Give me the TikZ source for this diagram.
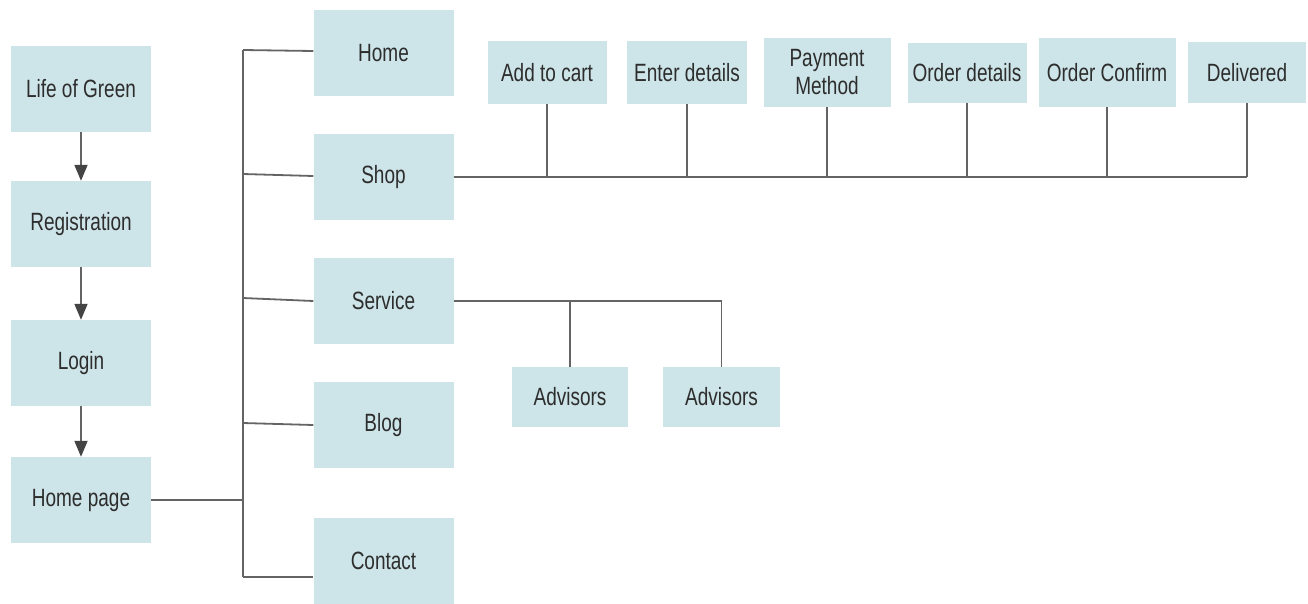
\documentclass[tikz,border=0pt]{standalone}
\usepackage{fontspec}
\setmainfont{Liberation Sans}[FakeStretch=0.76]
\usepackage{tikz}
\usetikzlibrary{arrows.meta}
\definecolor{boxfill}{RGB}{205,228,232}
\definecolor{linegray}{RGB}{100,100,100}
\definecolor{tipgray}{RGB}{68,68,68}
\definecolor{textgray}{RGB}{45,45,45}
\tikzstyle{page} = [rectangle, fill=boxfill, text=textgray, align=center, inner sep=0pt, font=\fontsize{25}{28}\selectfont]
\tikzstyle{mainbox} = [page, minimum width=140pt, minimum height=86pt]
\tikzstyle{stepbox} = [page, minimum width=119pt, minimum height=63pt]
\tikzstyle{line} = [linegray, line width=1.8pt]
\tikzstyle{arrow} = [line, -{Triangle[length=16pt,width=13pt,color=tipgray]}]

\begin{document}
\begin{tikzpicture}[x=1pt, y=1pt]
		\useasboundingbox (0,0) rectangle (1308,-603);
		% left column
		\node (lg) [mainbox] at (81,-89) {Life of Green};
		\node (reg) [mainbox, below of=lg, node distance=135pt] {Registration};
		\node (login) [mainbox, below of=reg, node distance=139pt] {Login};
		\node (hp) [mainbox, below of=login, node distance=137pt] {Home page};
		\draw [arrow] (lg) -- (reg);
		\draw [arrow] (reg) -- (login);
		\draw [arrow] (login) -- (hp);
		% menu
		\node (home) [mainbox] at (383.5,-53) {Home};
		\node (shop) [mainbox, below of=home, node distance=124pt] {Shop};
		\node (service) [mainbox, below of=shop, node distance=124pt] {Service};
		\node (blog) [mainbox, below of=service, node distance=124pt] {Blog};
		\node (contact) [mainbox, below of=blog, node distance=136pt] {Contact};
		\coordinate (trunk) at (243,-50);
		\draw [line] (hp.east) -- (hp.east -| trunk);
		\draw [line] (trunk) -- ([yshift=-16pt]contact.west -| trunk);
		\draw [line] (trunk) -- ([yshift=2pt]home.west);
		\draw [line] ([yshift=3pt]shop.west -| trunk) -- ([yshift=1pt]shop.west);
		\draw [line] ([yshift=3pt]service.west -| trunk) -- (service.west);
		\draw [line] ([yshift=2pt]blog.west -| trunk) -- (blog.west);
		\draw [line] ([yshift=-16pt]contact.west -| trunk) -- ([yshift=-16pt]contact.west);
		% shop steps
		\node (cart) [stepbox] at (547,-72.5) {Add to cart};
		\node (enter) [stepbox, right of=cart, node distance=140pt, minimum width=120pt] {Enter details};
		\node (pay) [stepbox, right of=enter, node distance=140pt, minimum width=127pt, minimum height=69pt] {Payment\\Method};
		\node (orderd) [stepbox, right of=pay, node distance=140pt, minimum height=60pt] {Order details};
		\node (confirm) [stepbox, right of=orderd, node distance=140pt, minimum width=137pt, minimum height=69pt] {Order Confirm};
		\node (deliv) [stepbox, right of=confirm, node distance=140pt, minimum width=118pt, minimum height=61pt] {Delivered};
		\draw [line] (shop.east) -- (deliv.south |- shop.east);
		\foreach \s in {cart, enter, pay, orderd, confirm, deliv}
			\draw [line] (\s.south) -- (\s.south |- shop.east);
		% service
		\node (adv1) [stepbox, minimum width=116pt, minimum height=60pt] at (570,-397) {Advisors};
		\node (adv2) [stepbox, right of=adv1, node distance=151.5pt, minimum width=117pt, minimum height=60pt] {Advisors};
		\draw [line] (service.east) -- (adv2.north |- service.east);
		\draw [line] (adv1.north) -- (adv1.north |- service.east);
		\draw [line] (adv2.north) -- (adv2.north |- service.east);
\end{tikzpicture}
\end{document}
